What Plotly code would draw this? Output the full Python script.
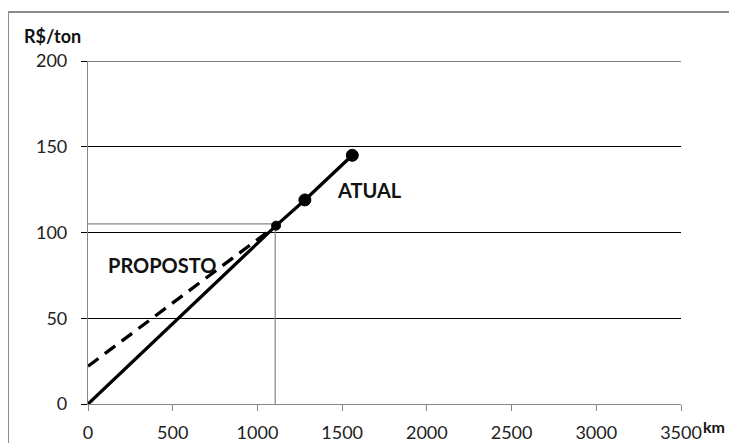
import plotly.graph_objects as go

# Data
dist_atual = [0, 1110, 1280, 1560]
custo_atual = [0, 104, 119, 145]
dist_proposto = [0, 1110]
custo_proposto = [22, 104]
ref_x = 1105
ref_y = 105
x_ticks = [0, 500, 1000, 1500, 2000, 2500, 3000, 3500]
y_ticks = [0, 50, 100, 150, 200]

FONT = "Lato"
GRAY = "#868686"

fig = go.Figure()

# reference lines (thin gray)
fig.add_trace(go.Scatter(x=[0, ref_x], y=[ref_y, ref_y], mode="lines",
                         line=dict(color=GRAY, width=1.2), hoverinfo="skip", showlegend=False))
fig.add_trace(go.Scatter(x=[ref_x, ref_x], y=[0, ref_y], mode="lines",
                         line=dict(color=GRAY, width=1.2), hoverinfo="skip", showlegend=False))

# PROPOSTO dashed
fig.add_trace(go.Scatter(x=dist_proposto, y=custo_proposto, mode="lines",
                         line=dict(color="black", width=3.3, dash="13px,8px"),
                         name="PROPOSTO", showlegend=False))
# ATUAL solid
fig.add_trace(go.Scatter(x=dist_atual, y=custo_atual, mode="lines",
                         line=dict(color="black", width=3.3),
                         name="ATUAL", showlegend=False))
fig.add_trace(go.Scatter(x=dist_atual[1:], y=custo_atual[1:], mode="markers",
                         marker=dict(color="#000000", size=[9, 12, 12], opacity=1,
                                     line=dict(width=1, color="#000000")),
                         showlegend=False, hoverinfo="skip"))

# top gridline at the range end
fig.add_hline(y=y_ticks[-1], line=dict(color="black", width=1))

fig.add_annotation(x=1664, y=125, xref="x", yref="y", text="<b>ATUAL</b>",
                   showarrow=False, font=dict(family=FONT, size=20, color="#111"))
fig.add_annotation(x=434, y=81, xref="x", yref="y", text="<b>PROPOSTO</b>",
                   showarrow=False, font=dict(family=FONT, size=20, color="#111"))

# page has an 8px body margin: figure pixel = page pixel - 8
OFF = 8
W, H = 729, 435
L, R, T, B = 80, 56, 53, 39
pw, ph = W - L - R, H - T - B

def px(xp):
    return (xp - OFF - L) / pw

def py(yp):
    return (H - B - (yp - OFF)) / ph

fig.add_annotation(x=px(52), y=py(36), xref="paper", yref="paper", text="<b>R$/ton</b>",
                   showarrow=False, font=dict(family=FONT, size=18, color="#111"),
                   xanchor="center", yanchor="middle")
fig.add_annotation(x=px(714), y=py(426), xref="paper", yref="paper", text="<b>km</b>",
                   showarrow=False, font=dict(family=FONT, size=16, color="#111"),
                   xanchor="center", yanchor="middle", borderpad=0)

# outer border
fig.add_shape(type="rect", xref="paper", yref="paper",
              x0=px(8), x1=px(760), y0=py(470), y1=py(12),
              line=dict(color="#8c8c8c", width=2), layer="below")

fig.update_xaxes(range=[0, 3500], tickvals=x_ticks, showgrid=False, zeroline=False,
                 showline=True, linecolor=GRAY, linewidth=1.2, automargin=False,
                 ticks="outside", ticklen=6, tickcolor=GRAY, ticklabelstandoff=6,
                 tickfont=dict(family=FONT, size=18, color="#222"))
fig.update_yaxes(range=[0, 200], tickvals=y_ticks, showgrid=True, gridcolor="black",
                 gridwidth=1, zeroline=False, showline=True, linecolor=GRAY, linewidth=1.2,
                 ticks="outside", ticklen=6, tickcolor="black", tickwidth=1,
                 ticklabelstandoff=10, automargin=False,
                 tickfont=dict(family=FONT, size=18, color="#222"))

fig.update_layout(width=W, height=H, margin=dict(l=L, r=R, t=T, b=B, autoexpand=False),
                  paper_bgcolor="white", plot_bgcolor="white",
                  font=dict(family=FONT))

fig.write_html("out.html")
